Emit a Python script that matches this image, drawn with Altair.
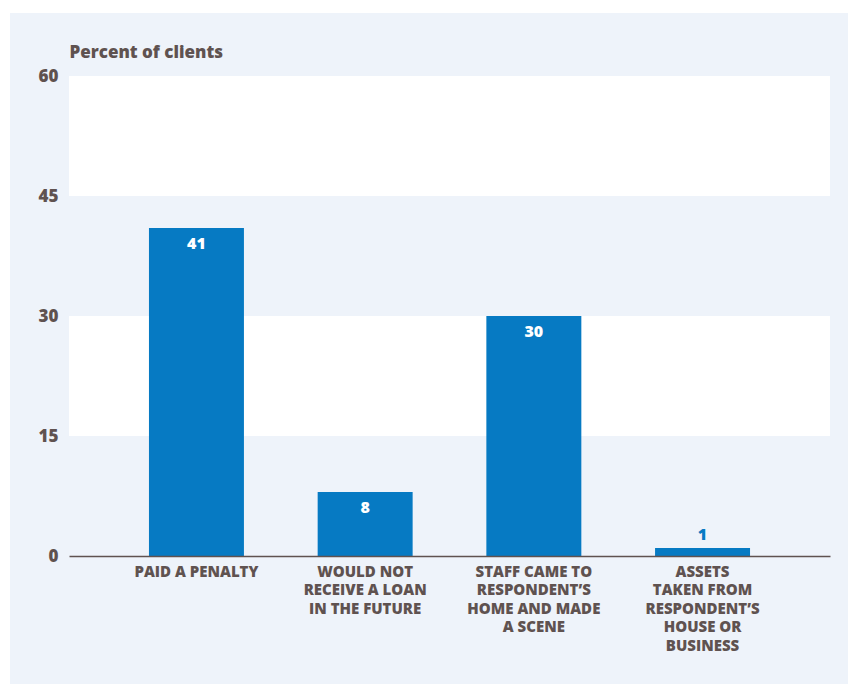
import altair as alt
import pandas as pd

categories = [
    "PAID A PENALTY",
    "WOULD NOT|RECEIVE A LOAN|IN THE FUTURE",
    "STAFF CAME TO|RESPONDENT’S|HOME AND MADE|A SCENE",
    "ASSETS|TAKEN FROM|RESPONDENT’S|HOUSE OR|BUSINESS",
]
values = [41, 8, 30, 1]
band_starts = [15, 45]
band_ends = [30, 60]
y_ticks = [0, 15, 30, 45, 60]

FONT = "Open Sans"
WEIGHT = 800
TEXT = "#5f5250"
BLUE = "#067ac3"
PANEL = "#eef3fa"
W, H = 761, 480

df = pd.DataFrame({"cat": categories, "val": values})
bands = pd.DataFrame({"y0": band_starts, "y1": band_ends})

xscale = alt.Scale(domain=categories, paddingInner=0.437, paddingOuter=0.474)
yscale = alt.Scale(domain=[0, 60], nice=False)

panel = alt.Chart(pd.DataFrame({"a": [0]})).mark_rect(color=PANEL).encode(
    x=alt.value(-59), x2=alt.value(W + 18), y=alt.value(-63), y2=alt.value(H + 128)
)

band_layer = alt.Chart(bands).mark_rect(color="white").encode(
    x=alt.value(0), x2=alt.value(W),
    y=alt.Y("y0:Q", scale=yscale,
            axis=alt.Axis(values=y_ticks, title="Percent of clients", titleAngle=0,
                          titleAlign="left", titleX=0, titleY=-19,
                          titleBaseline="alphabetic", titleFont=FONT, titleFontSize=17,
                          titleFontWeight=WEIGHT, titleColor=TEXT,
                          labelFont=FONT, labelFontSize=17, labelFontWeight=WEIGHT,
                          labelColor=TEXT, labelPadding=11, domain=False, ticks=False,
                          grid=False, zindex=2)),
    y2="y1:Q",
)

bars = alt.Chart(df).mark_bar(color=BLUE).encode(
    x=alt.X("cat:N", scale=xscale, sort=categories,
            axis=alt.Axis(title=None, labelAngle=0, labelExpr="split(datum.label, '|')",
                          labelFont=FONT, labelFontSize=15, labelFontWeight=WEIGHT,
                          labelColor=TEXT, labelLineHeight=18.5, labelPadding=8,
                          ticks=False, domain=True, domainColor=TEXT, domainWidth=1.5,
                          grid=False, labelLimit=300, zindex=2)),
    y=alt.Y("val:Q", scale=yscale),
)

inside = alt.Chart(df).transform_filter("datum.val > 5").mark_text(
    color="white", font=FONT, fontSize=16, fontWeight=WEIGHT, baseline="alphabetic", dy=21
).encode(
    x=alt.X("cat:N", scale=xscale, sort=categories),
    y=alt.Y("val:Q", scale=yscale),
    text="val:Q",
)

outside = alt.Chart(df).transform_filter("datum.val <= 5").mark_text(
    color=BLUE, font=FONT, fontSize=16, fontWeight=WEIGHT, baseline="alphabetic", dy=-8
).encode(
    x=alt.X("cat:N", scale=xscale, sort=categories),
    y=alt.Y("val:Q", scale=yscale),
    text="val:Q",
)

chart = alt.layer(panel, band_layer, bars, inside, outside).properties(
    width=W, height=H,
    autosize=alt.AutoSizeParams(type="none"),
    padding={"left": 69, "top": 76, "right": 18, "bottom": 128},
    background="white",
).configure_view(stroke=None)

chart.save("out.html", embed_options={"renderer": "svg", "actions": False})
